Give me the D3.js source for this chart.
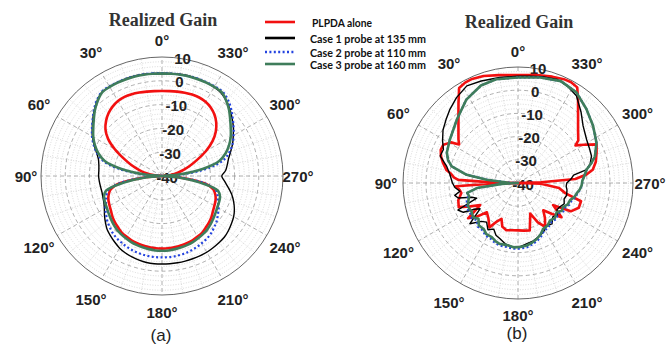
<!DOCTYPE html>
<html>
<head>
<meta charset="utf-8">
<script src="https://cdn.jsdelivr.net/npm/d3@7/dist/d3.min.js"></script>
<style>
  html, body { margin: 0; padding: 0; background: #fff; }
  svg { display: block; }
</style>
</head>
<body>
<svg id="chart" width="669" height="345"></svg>
<script>
// ---- data ----
const angleTicks = [0, 30, 60, 90, 120, 150, 180, 210, 240, 270, 300, 330];
const angleLabels = ['0°', '30°', '60°', '90°', '120°', '150°', '180°', '210°', '240°', '270°', '300°', '330°'];
const gainTicks = [-40, -30, -20, -10, 0, 10];
const gainLabels = ['-40', '-30', '-20', '-10', '0', '10'];
const seriesNames = ['PLPDA alone', 'Case 1 probe at 135 mm', 'Case 2 probe at 110 mm', 'Case 3 probe at 160 mm'];

// (a) sampled every 5 degrees
const angA = [0, 5, 10, 15, 20, 25, 30, 35, 40, 45, 50, 55, 60, 65, 70, 75, 80, 85,
  90, 95, 100, 105, 110, 115, 120, 125, 130, 135, 140, 145, 150, 155, 160, 165, 170, 175,
  180, 185, 190, 195, 200, 205, 210, 215, 220, 225, 230, 235, 240, 245, 250, 255, 260, 265,
  270, 275, 280, 285, 290, 295, 300, 305, 310, 315, 320, 325, 330, 335, 340, 345, 350, 355];
const redA = [-4.3, -4.2, -4.0, -3.7, -3.4, -3.3, -3.6, -4.4, -5.6, -7.3, -9.5, -12.8, -17.5, -22.5, -26.5, -30.3, -33.5, -37,
  -40, -32, -22, -18, -16.5, -15.6, -15, -14.3, -13.3, -12.5, -11.8, -11, -10.6, -10.2, -10, -9.8, -9.6, -9.5,
  -9.5, -9.5, -9.6, -9.8, -10, -10.2, -10.6, -11, -11.8, -12.5, -13.3, -14.3, -15, -15.6, -16.5, -18, -22, -32,
  -40, -37.5, -34.5, -31.5, -28, -24, -19, -14.5, -11, -8.3, -6.3, -4.9, -4, -3.6, -3.6, -3.8, -4.0, -4.2];
const blackA = [3.2, 3.3, 3.4, 3.5, 3.5, 3.4, 3.3, 3.1, 1.5, -0.5, -2.7, -4.8, -6.8, -9, -11.2, -12.8, -13.5, -13.8,
  -13.8, -14, -14.2, -14.3, -14, -13.5, -12.5, -11, -9.5, -8, -7, -6, -5, -4.3, -3.8, -3.4, -3.1, -3,
  -3, -3, -3, -3, -3, -3, -3, -3.2, -3.4, -3.6, -4.2, -5, -5.8, -7, -8.5, -10.2, -12.2, -14,
  -15.3, -13.6, -12.6, -11.5, -9.8, -7.8, -6, -4, -2.2, -0.3, 1.3, 2.6, 3.1, 3.3, 3.4, 3.5, 3.4, 3.3];
const blueA = [3.2, 3.3, 3.4, 3.5, 3.5, 3.5, 3.5, 3.3, 1.8, -0.3, -2.6, -4.7, -6.6, -8.8, -11.3, -14.5, -21, -31,
  -40, -32, -22, -17, -15.5, -14.5, -13, -11.8, -10.5, -9.5, -8.5, -7.8, -7.3, -6.8, -6.4, -6.1, -5.9, -5.8,
  -5.8, -5.8, -5.9, -6.1, -6.4, -6.8, -7.3, -7.8, -8.5, -9.5, -10.5, -11.8, -13, -14.5, -15.5, -17, -22, -32,
  -40, -31, -20, -13.5, -10.3, -7.8, -5.8, -3.9, -1.9, 0.3, 2.2, 3.4, 3.5, 3.5, 3.5, 3.4, 3.3, 3.2];
const greenA = [3, 3.1, 3.2, 3.3, 3.3, 3.3, 3.2, 3.0, 1.3, -0.8, -3.2, -5.3, -7.2, -9.4, -12, -15.5, -23, -33,
  -40, -33, -24, -16, -14.5, -14, -13.6, -13, -12.3, -11.5, -10.8, -10.3, -9.9, -9.5, -9.2, -9, -8.8, -8.6,
  -8.6, -8.6, -8.8, -9, -9.2, -9.5, -9.9, -10.3, -10.8, -11.5, -12.3, -13, -13.6, -14, -14.5, -16, -24, -33,
  -40, -33, -23, -15.5, -12, -9.4, -7.2, -5.3, -3.2, -0.8, 1.3, 3.0, 3.2, 3.3, 3.3, 3.3, 3.2, 3.1];

// (b) read at irregular angles
const redBAng = [0, 10, 18, 24, 28, 32, 37, 42, 47, 54, 57, 59, 63, 67, 71, 75, 80, 82, 85, 87,
  89, 90, 91, 93, 97, 100, 106, 112, 116, 120, 125, 129, 133, 140, 147, 151, 155, 160, 166, 173,
  180, 187, 194, 198, 202, 207, 212, 218, 223, 228, 232, 238, 242, 248, 254, 258, 263, 268, 270, 272,
  274, 277, 280, 285, 291, 296, 300, 303, 305, 311, 317, 324, 328, 332, 336, 342, 350];
const redB = [6.5, 7.2, 8.5, 9.1, 9.0, 8.3, 3, -1.3, -4.6, -8, -9.5, -6, -3.6, -3.5, -4.6, -6.2, -8.5, -10.5, -12, -14,
  -30, -40, -30, -13, -14.5, -15, -13, -12.2, -17, -21, -13.5, -17, -21.5, -20, -17.2, -21, -23, -20, -19, -19.5,
  -19.6, -19.3, -18.9, -23, -25.8, -21, -17.7, -21, -23.9, -20, -16, -22, -14, -11.5, -11.5, -19, -22, -30, -40, -30,
  -15, -10, -7, -5, -3.4, -2, -7, -10.2, -8, -5.4, -1.7, 4.4, 8.6, 9.2, 9.0, 8.2, 7.2];
const blackBAng = [0, 10, 20, 28, 36, 43, 49, 55, 61, 66, 71, 77, 83, 87, 90, 94, 98, 101, 104, 107,
  110, 114, 118, 121, 124, 130, 136, 141, 147, 152, 157, 162, 168, 175, 182, 188, 195, 203, 209, 214,
  220, 226, 231, 236, 241, 246, 251, 256, 262, 266, 270, 274, 278, 281, 285, 290, 296, 302, 311, 318,
  326, 333, 339, 347, 354];
const blackB = [6, 6.2, 6.8, 7.4, 5.5, 3.4, 1.5, -0.2, -2.5, -4.5, -4.2, -8.2, -10.2, -11, -11.5, -12.5, -14.5, -12, -13.2, -19,
  -20.9, -11.4, -13.1, -18, -20.1, -12.7, -17, -18.3, -16, -17.5, -15.5, -14.7, -13.2, -12.4, -12.6, -13.5, -14.2, -15.4, -16.5, -17.9,
  -17, -19, -18, -19.5, -19, -18, -18.8, -18.2, -18.5, -19, -18.8, -17, -15.6, -9.6, -7.5, -6, -5.5, -4.8, -2.5, 1,
  5.4, 7, 7.8, 7, 6.3];
const greenBAng = [0, 12, 21, 32, 44, 58, 67, 72, 76, 81, 84, 88, 90, 93, 97, 101, 105, 109, 115, 122,
  127, 132, 137, 143, 148, 154, 159, 163, 170, 176, 182, 188, 193, 199, 204, 209, 215, 221, 227, 233,
  238, 242, 247, 252, 256, 260, 264, 268, 272, 276, 281, 285, 289, 297, 307, 317, 327, 337, 348];
const greenB = [5.5, 5.7, 5, 2.4, -1.8, -5, -6.4, -8, -10.3, -17.4, -26.3, -36, -40, -33, -22, -17.5, -18, -17.2, -16, -16.3,
  -15.5, -16.9, -15, -15.2, -14, -14, -13, -12.6, -12.8, -12.2, -12.4, -12.8, -13.5, -14.6, -15.8, -17.4, -17.6, -18.7, -18, -19,
  -17.5, -17.8, -16.5, -16.2, -14.8, -14.1, -13, -12.3, -12, -11, -9.6, -7, -4.6, -1.7, 0.9, 3.6, 6.6, 7.7, 6.5];
const blueB = [5.5, 5.7, 5, 2.4, -1.8, -5, -6.4, -8, -10.3, -17.4, -26.3, -36, -40, -33, -22, -17.5, -17.5, -16.5, -15.3, -15.5,
  -14.8, -16, -14.3, -14.5, -13.3, -13.2, -12.3, -11.9, -12, -11.6, -11.7, -12, -12.8, -13.8, -15, -16.5, -16.8, -17.8, -17.2, -18.2,
  -16.8, -17, -15.8, -15.5, -14.3, -13.8, -12.8, -12.2, -12, -11, -9.6, -7, -4.6, -1.7, 0.9, 3.6, 6.6, 7.7, 6.5];

// ---- styles ----
const colors = ['#f21010', '#000000', '#2343e0', '#3f7d5b'];
const widths = [2.6, 1.4, 2.2, 2.6];
const dashes = [null, null, '2,2.4', null];
const gridDash = '4,3';
const font = '"Liberation Sans", Arial, sans-serif';

const svg = d3.select('#chart');
const rad = d => d * Math.PI / 180;

function drawPolar(p) {
  const g = svg.append('g');
  const xr = d3.scaleLinear().domain([-40, 10]).range([0, p.rx]).clamp(true);
  const yr = d3.scaleLinear().domain([-40, 10]).range([0, p.ry]).clamp(true);
  const px = (a, v) => p.cx - xr(v) * Math.sin(rad(a));
  const py = (a, v) => p.cy - yr(v) * Math.cos(rad(a));

  // minor rings (every 2 dB)
  const minor = d3.range(-38, 10, 2).filter(v => v % 10 !== 0);
  g.selectAll('ellipse.minor').data(minor).join('ellipse')
    .attr('cx', p.cx).attr('cy', p.cy)
    .attr('rx', d => xr(d)).attr('ry', d => yr(d))
    .attr('fill', 'none').attr('stroke', '#c8c8c8')
    .attr('stroke-width', 0.7).attr('stroke-dasharray', '1,1.6');

  // minor spokes (every 10 deg)
  const minorAng = d3.range(0, 360, 10).filter(a => a % 30 !== 0);
  g.selectAll('line.mspoke').data(minorAng).join('line')
    .attr('x1', d => px(d, -30)).attr('y1', d => py(d, -30))
    .attr('x2', d => px(d, 10)).attr('y2', d => py(d, 10))
    .attr('stroke', '#c8c8c8').attr('stroke-width', 0.7).attr('stroke-dasharray', '1,1.6');

  // major rings
  g.selectAll('ellipse.major').data(gainTicks.slice(1, -1)).join('ellipse')
    .attr('cx', p.cx).attr('cy', p.cy)
    .attr('rx', d => xr(d)).attr('ry', d => yr(d))
    .attr('fill', 'none').attr('stroke', '#9a9a9a')
    .attr('stroke-width', 0.8).attr('stroke-dasharray', gridDash);

  // major spokes
  g.selectAll('line.spoke').data(angleTicks).join('line')
    .attr('x1', p.cx).attr('y1', p.cy)
    .attr('x2', d => px(d, 10)).attr('y2', d => py(d, 10))
    .attr('stroke', '#9a9a9a').attr('stroke-width', 0.8).attr('stroke-dasharray', gridDash);

  // outer ring
  g.append('ellipse')
    .attr('cx', p.cx).attr('cy', p.cy).attr('rx', xr(10)).attr('ry', yr(10))
    .attr('fill', 'none').attr('stroke', '#555').attr('stroke-width', 0.9);

  // radial tick labels
  g.selectAll('text.rt').data(gainTicks).join('text')
    .attr('x', d => p.cx + 5 + 0.13 * yr(d))
    .attr('y', d => p.cy - yr(d) + 1)
    .attr('text-anchor', 'middle').attr('dominant-baseline', 'central')
    .style('font-family', font).style('font-weight', 'bold').style('font-size', '15px')
    .style('fill', '#222')
    .text((d, i) => gainLabels[i]);

  // angle labels
  g.selectAll('text.at').data(angleTicks).join('text')
    .attr('x', d => p.cx - (p.lr + 7 * Math.abs(Math.sin(rad(2 * d)))) * Math.sin(rad(d)))
    .attr('y', d => p.cy - (p.lr + 7 * Math.abs(Math.sin(rad(2 * d)))) * Math.cos(rad(d)))
    .attr('text-anchor', 'middle').attr('dominant-baseline', 'central')
    .style('font-family', font).style('font-weight', 'bold').style('font-size', '15px')
    .style('fill', '#222')
    .text((d, i) => angleLabels[i]);

  // curves
  const line = d3.line()
    .x(d => px(d[0], d[1]))
    .y(d => py(d[0], d[1]))
    .curve(p.curve);
  p.series.forEach((s, i) => {
    g.append('path')
      .datum(s.ang.map((a, j) => [a, s.val[j]]))
      .attr('d', line)
      .attr('fill', 'none')
      .attr('stroke', colors[i])
      .attr('stroke-width', widths[i])
      .attr('stroke-linejoin', 'round')
      .attr('stroke-dasharray', dashes[i]);
  });

  // title and tag
  svg.append('text')
    .attr('x', p.cx + 1).attr('y', p.titleY)
    .attr('text-anchor', 'middle')
    .style('font-family', '"Liberation Serif", "Times New Roman", serif')
    .style('font-weight', 'bold').style('font-size', '18px').style('fill', '#333')
    .text('Realized Gain');
  svg.append('text')
    .attr('x', p.cx - 1).attr('y', p.tagY)
    .attr('text-anchor', 'middle')
    .style('font-family', font).style('font-size', '17px').style('fill', '#222')
    .text(p.tag);
}

drawPolar({
  cx: 162, cy: 176, rx: 121, ry: 119, lr: 136, titleY: 26, tagY: 341, tag: '(a)',
  curve: d3.curveCatmullRomClosed.alpha(0.5),
  series: [
    { ang: angA, val: redA },
    { ang: angA, val: blackA },
    { ang: angA, val: blueA },
    { ang: angA, val: greenA }
  ]
});

drawPolar({
  cx: 518, cy: 183, rx: 115, ry: 116, lr: 132, titleY: 28, tagY: 339, tag: '(b)',
  curve: d3.curveLinearClosed,
  series: [
    { ang: redBAng, val: redB },
    { ang: blackBAng, val: blackB },
    { ang: greenBAng, val: blueB },
    { ang: greenBAng, val: greenB }
  ]
});

// legend
const legendY = [22, 38, 52, 64];
const legendLen = [60, 116, 116, 116];
const legend = svg.append('g');
seriesNames.forEach((name, i) => {
  legend.append('line')
    .attr('x1', 265).attr('x2', 295)
    .attr('y1', legendY[i]).attr('y2', legendY[i])
    .attr('stroke', colors[i]).attr('stroke-width', 2.6)
    .attr('stroke-dasharray', dashes[i]);
  legend.append('text')
    .attr('x', i === 0 ? 312 : 310).attr('y', legendY[i] + 0.5)
    .attr('dominant-baseline', 'central')
    .attr('textLength', legendLen[i]).attr('lengthAdjust', 'spacingAndGlyphs')
    .style('font-family', 'Lato, "Open Sans", sans-serif')
    .style('font-weight', 'bold').style('font-size', '11px').style('fill', '#111')
    .text(name);
});
</script>
</body>
</html>
